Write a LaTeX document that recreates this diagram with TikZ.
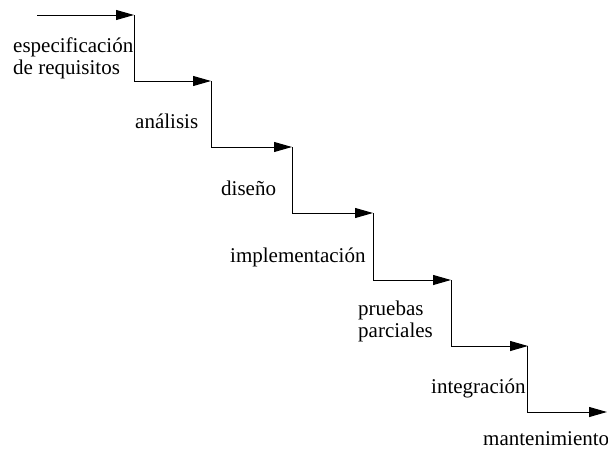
\documentclass[tikz,border=0pt]{standalone}
\usepackage{fontspec}
\setmainfont{Liberation Serif}
\usetikzlibrary{arrows.meta}
\begin{document}
\begin{tikzpicture}[x=1pt,y=-1pt,
  flow/.style={line width=1pt,-{Triangle[length=18pt,width=10pt]}},
  lab/.style={inner sep=0pt,anchor=base west,font=\fontsize{21}{22}\selectfont,align=left}]
\useasboundingbox (0,0) rectangle (608,455);
\coordinate (s0) at (37,15);
\coordinate (t1) at (134,15);
\coordinate (c1) at (134,81);
\coordinate (t2) at (211,81);
\coordinate (c2) at (211,147);
\coordinate (t3) at (292,147);
\coordinate (c3) at (292,213);
\coordinate (t4) at (373,213);
\coordinate (c4) at (373,280);
\coordinate (t5) at (451,280);
\coordinate (c5) at (451,346);
\coordinate (t6) at (528,346);
\coordinate (c6) at (527,412);
\coordinate (t7) at (607,412);
\draw[flow] (s0) -- (t1);
\draw[flow] (t1) -- (c1) -- (t2);
\draw[flow] (t2) -- (c2) -- (t3);
\draw[flow] (t3) -- (c3) -- (t4);
\draw[flow] (t4) -- (c4) -- (t5);
\draw[flow] (t5) -- (c5) -- (t6);
\draw[flow] (c6 |- t6) -- (c6) -- (t7);
\node[lab] (l1) at (13,74) {especificación\\de requisitos};
\node[lab] (l2) at (135,128) {análisis};
\node[lab] (l3) at (221,195) {diseño};
\node[lab] (l4) at (230,262) {implementación};
\node[lab] (l5) at (358,337) {pruebas\\parciales};
\node[lab] (l6) at (431,393) {integración};
\node[lab] (l7) at (483,445) {mantenimiento};
\end{tikzpicture}
\end{document}
